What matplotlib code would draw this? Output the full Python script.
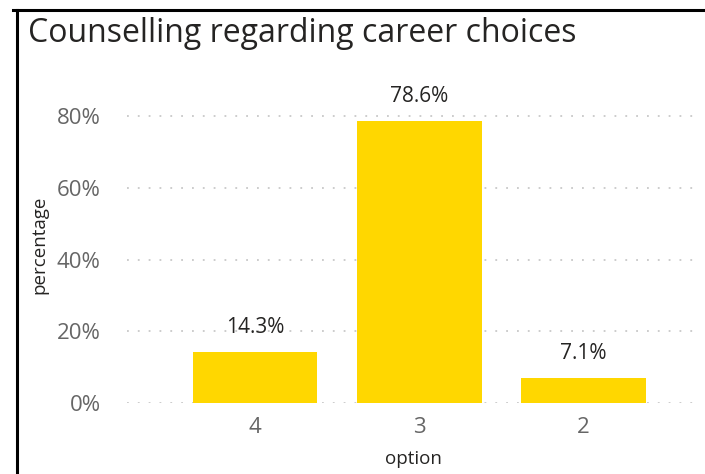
import matplotlib
matplotlib.use("Agg")
import matplotlib.pyplot as plt
from matplotlib.lines import Line2D

# ---- data ----
options = ["4", "3", "2"]
percentages = [14.3, 78.6, 7.1]
y_ticks = [0, 20, 40, 60, 80]

BAR_COLOR = "#FFD700"
TICK_COLOR = "#666666"
TEXT_COLOR = "#252423"

plt.rcParams['font.family'] = ['Open Sans', 'DejaVu Sans']

W, H = 705, 474
fig = plt.figure(figsize=(W / 100, H / 100), dpi=100)
fig.patch.set_facecolor("white")

# plot area in pixel terms
left, right, bottom = 127, 700, 403
ymax = 88
px_per_unit = (403 - 116) / 80
top = bottom - ymax * px_per_unit
ax = fig.add_axes([left / W, (H - bottom) / H, (right - left) / W, (bottom - top) / H])

x = list(range(len(options)))
ax.bar(x, percentages, width=0.76, color=BAR_COLOR, zorder=2)

for xi, v in zip(x, percentages):
    ax.text(xi, v + 3.8, f"{v:.1f}%", ha="center", va="bottom",
            fontsize=15, color=TEXT_COLOR)

ax.set_xlim(-0.78, 2.71)
ax.set_ylim(0, ymax)
ax.set_xticks(x)
ax.set_xticklabels(options, fontsize=16, color=TICK_COLOR)
ax.set_yticks(y_ticks)
ax.set_yticklabels([f"{t}%" for t in y_ticks], fontsize=16, color=TICK_COLOR)
ax.tick_params(axis="both", length=0)
ax.tick_params(axis="y", pad=19)
ax.tick_params(axis="x", pad=10)

for s in ax.spines.values():
    s.set_visible(False)

ax.yaxis.grid(True, color="#c8c8c8", linestyle=(0, (1, 5)), linewidth=1.3, zorder=0)
ax.set_axisbelow(True)

ax.set_xlabel("option", fontsize=13.5, color=TEXT_COLOR, labelpad=9)
ax.set_ylabel("percentage", fontsize=13.5, color=TEXT_COLOR, labelpad=6)

# title
fig.text(28 / W, 1 - 33 / H, "Counselling regarding career choices",
         fontsize=23, color=TEXT_COLOR, ha="left", va="center", weight="medium")

# frame lines (top and left)
fig.add_artist(Line2D([13 / W, 1], [1 - 10 / H, 1 - 10 / H], color="black",
                      linewidth=2.2, transform=fig.transFigure))
fig.add_artist(Line2D([17 / W, 17 / W], [1 - 10 / H, 0], color="black",
                      linewidth=2.2, transform=fig.transFigure))

fig.savefig("out.png", dpi=100)
